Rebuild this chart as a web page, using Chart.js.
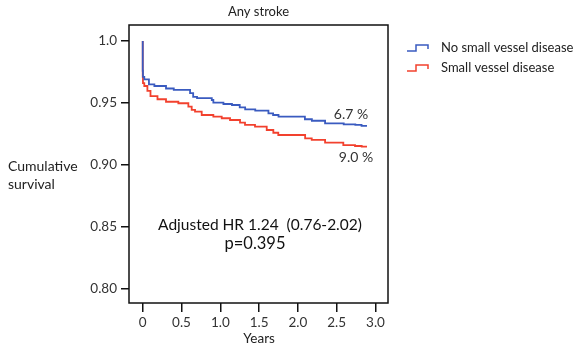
<!DOCTYPE html>
<html>
<head>
<meta charset="utf-8">
<script src="https://cdn.jsdelivr.net/npm/chart.js@4.4.1/dist/chart.umd.min.js"></script>
<style>
  html, body { margin: 0; padding: 0; background: #fff; }
  canvas { display: block; }
</style>
</head>
<body>
<canvas id="km" width="574" height="350"></canvas>
<script>
// Kaplan-Meier steps: [years, cumulative survival after the drop]
const noSvdSteps = [
  [0, 1.0], [0.003, 0.976], [0.02, 0.971], [0.08, 0.969], [0.15, 0.965],
  [0.30, 0.9637], [0.40, 0.9617], [0.61, 0.9605], [0.65, 0.958],
  [0.70, 0.955], [0.89, 0.954], [0.91, 0.9524], [1.04, 0.9503], [1.15, 0.9492],
  [1.25, 0.9484], [1.32, 0.9465], [1.45, 0.9449], [1.62, 0.9438], [1.68, 0.9417],
  [1.75, 0.9403], [2.09, 0.939], [2.18, 0.9369], [2.35, 0.9357], [2.59, 0.9336],
  [2.74, 0.9328], [2.82, 0.9323], [2.89, 0.9315]
]
const svdSteps = [
  [0, 1.0], [0.003, 0.971], [0.02, 0.966], [0.06, 0.9637], [0.10, 0.9597],
  [0.19, 0.9556], [0.30, 0.953], [0.459, 0.951],
  [0.588, 0.9498], [0.631, 0.947], [0.674, 0.9444], [0.76, 0.943], [0.91, 0.9403],
  [1.018, 0.939], [1.125, 0.9377], [1.254, 0.9363], [1.318, 0.9341], [1.447, 0.9323],
  [1.598, 0.9309], [1.683, 0.9282], [1.747, 0.926], [2.093, 0.9242], [2.178, 0.9215],
  [2.35, 0.9202], [2.585, 0.918], [2.736, 0.9161], [2.822, 0.9153], [2.89, 0.9148]
]
const seriesNames = ['No small vessel disease', 'Small vessel disease']
const xTicks = [0, 0.5, 1.0, 1.5, 2.0, 2.5, 3.0]
const xTickLabels = ['0', '0.5', '1.0', '1.5', '2.0', '2.5', '3.0']
const yTicks = [0.80, 0.85, 0.90, 0.95, 1.0]
const yTickLabels = ['0.80', '0.85', '0.90', '0.95', '1.0']
const endLabels = ['6.7 %', '9.0 %']
const hrText = 'Adjusted HR 1.24  (0.76-2.02)'
const pText = 'p=0.395'

const BLUE = '#3a5bc0'
const RED = '#f2412e'
const FONT = 'Lato, "Open Sans", sans-serif'
const INK = '#222'

const toXY = steps => steps.map(([x, y]) => ({ x, y }))

const decor = {
  id: 'decor',
  afterDraw(chart) {
    const { ctx, chartArea: a, scales } = chart
    ctx.save()
    // plot frame
    ctx.strokeStyle = '#111'
    ctx.lineWidth = 1.5
    ctx.strokeRect(a.left, a.top, a.right - a.left, a.bottom - a.top)

    ctx.fillStyle = INK
    ctx.textBaseline = 'middle'

    ctx.font = '13px ' + FONT
    ctx.textAlign = 'center'
    ctx.fillText('Any stroke', (a.left + a.right) / 2, 12)
    ctx.font = '13.5px ' + FONT
    ctx.fillText('Years', scales.x.getPixelForValue(1.5), 339)

    ctx.textAlign = 'left'
    ctx.font = '14px ' + FONT
    ctx.fillText('Cumulative', 8, 166)
    ctx.fillText('survival', 8, 184)

    // legend with small step glyphs
    const rows = [48, 68]
    chart.data.datasets.forEach((ds, i) => {
      const y = rows[i]
      ctx.strokeStyle = ds.borderColor
      ctx.lineWidth = 1.5
      ctx.beginPath()
      ctx.moveTo(407, y + 3)
      ctx.lineTo(416, y + 3)
      ctx.lineTo(416, y - 3)
      ctx.lineTo(428, y - 3)
      ctx.lineTo(428, y + 1)
      ctx.stroke()
      ctx.fillStyle = INK
      ctx.font = '13px ' + FONT
      ctx.fillText(ds.label, 441, y)
    })

    // end-of-follow-up event rates
    ctx.font = '14px ' + FONT
    ctx.fillStyle = '#333'
    ctx.textAlign = 'center'
    ctx.fillText(endLabels[0], 351, 114)
    ctx.fillText(endLabels[1], 356, 157)

    ctx.fillStyle = '#111'
    ctx.font = '15.5px ' + FONT
    ctx.fillText(hrText, 260, 225)
    ctx.font = '16.5px ' + FONT
    ctx.fillText(pText, 255, 244)
    ctx.restore()
  }
}

new Chart(document.getElementById('km'), {
  type: 'line',
  data: {
    datasets: [
      { label: seriesNames[0], data: toXY(noSvdSteps), borderColor: BLUE },
      { label: seriesNames[1], data: toXY(svdSteps), borderColor: RED }
    ]
  },
  options: {
    responsive: false,
    animation: false,
    devicePixelRatio: 1,
    layout: { padding: { top: 25, right: 186, left: 0, bottom: 0 } },
    elements: {
      point: { radius: 0 },
      line: { stepped: 'after', borderWidth: 1.8, fill: false }
    },
    plugins: { legend: false, tooltip: { enabled: false } },
    scales: {
      x: {
        type: 'linear',
        min: -0.177,
        max: 3.161,
        afterFit: s => { s.height = 47 },
        afterBuildTicks: s => { s.ticks = xTicks.map(value => ({ value })) },
        grid: { drawOnChartArea: false, drawTicks: true, tickLength: 9, color: '#111', lineWidth: 1.5 },
        border: { display: false },
        ticks: {
          color: '#333',
          padding: 3,
          maxRotation: 0,
          font: { family: FONT, size: 13.5 },
          callback: v => xTickLabels[xTicks.indexOf(v)]
        }
      },
      y: {
        min: 0.7887,
        max: 1.0129,
        afterFit: s => { s.width = 129 },
        afterBuildTicks: s => { s.ticks = yTicks.map(value => ({ value })) },
        grid: { drawOnChartArea: false, drawTicks: true, tickLength: 8, color: '#111', lineWidth: 1.5 },
        border: { display: false },
        ticks: {
          color: '#333',
          padding: 4,
          font: { family: FONT, size: 13.5 },
          callback: v => yTickLabels[yTicks.indexOf(v)]
        }
      }
    }
  },
  plugins: [decor]
})
</script>
</body>
</html>
